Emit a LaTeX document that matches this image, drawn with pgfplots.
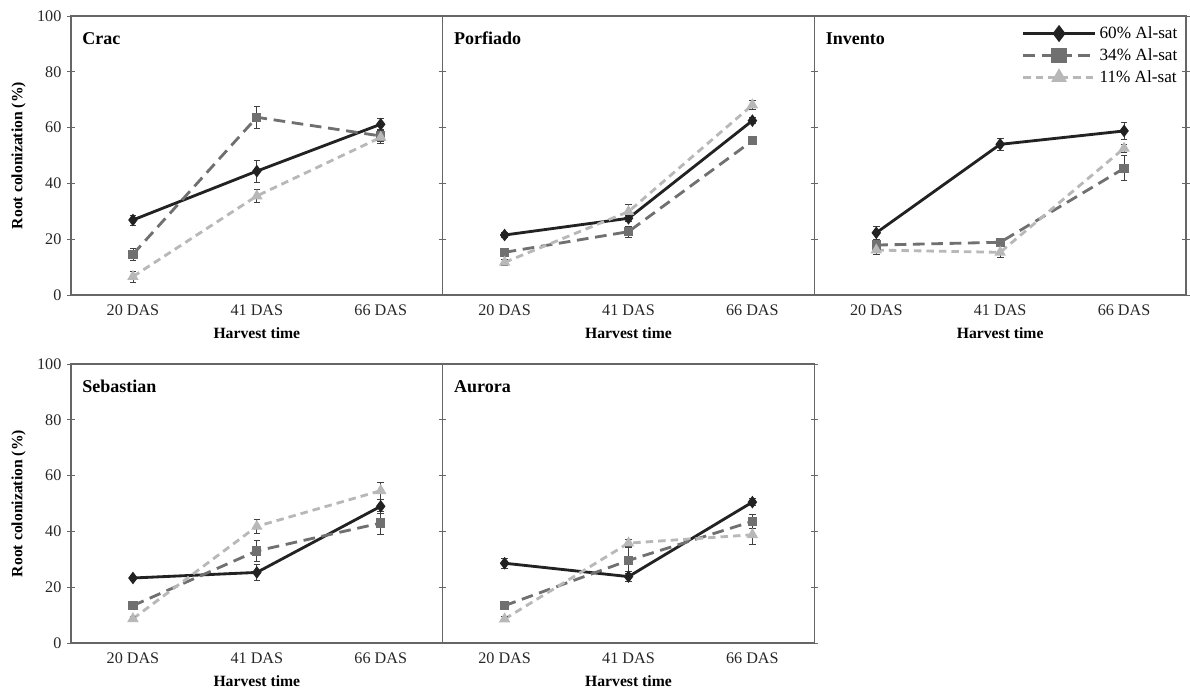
\documentclass[border=0pt]{standalone}
\usepackage{fontspec}
\setmainfont{Liberation Serif}
\usepackage{pgfplots}
\usepackage{pgfplotstable}
\pgfplotsset{compat=1.18}
\usepgfplotslibrary{groupplots}

\definecolor{axgray}{HTML}{666666}
\definecolor{sA}{HTML}{222222}
\definecolor{sB}{HTML}{707070}
\definecolor{sC}{HTML}{B8B8B8}

% x a ae b be c ce  (a=60% Al-sat, b=34% Al-sat, c=11% Al-sat)
\pgfplotstableread{
x a ae b be c ce
1 26.9 1.8 14.6 2.2 6.6 2.0
2 44.4 3.9 63.7 4.0 35.5 2.2
3 61.2 2.0 57.0 2.0 56.5 2.0
}\crac
\pgfplotstableread{
x a ae b be c ce
1 21.5 1.0 15.3 0.8 11.7 1.0
2 27.5 1.0 22.7 2.0 29.9 2.5
3 62.5 1.0 55.3 1.0 68.1 1.5
}\porfiado
\pgfplotstableread{
x a ae b be c ce
1 22.3 2.3 17.9 1.5 16.1 1.5
2 54.0 2.0 18.9 1.0 15.3 2.0
3 58.8 3.2 45.4 4.5 52.6 1.5
}\invento
\pgfplotstableread{
x a ae b be c ce
1 23.3 0.7 13.4 0.8 8.7 0.8
2 25.3 3.0 33.0 3.9 41.8 2.4
3 49.0 2.5 43.0 4.0 54.6 3.0
}\sebastian
\pgfplotstableread{
x a ae b be c ce
1 28.6 1.7 13.4 0.8 8.6 0.8
2 23.8 1.7 29.6 4.5 35.8 1.2
3 50.5 1.3 43.6 2.4 38.8 3.5
}\aurora

\pgfplotsset{
  panel/.style={
    width=223pt, height=167.4pt, scale only axis,
    xmin=0.5, xmax=3.5, ymin=0, ymax=100,
    xtick={1,2,3}, xticklabels={20 DAS,41 DAS,66 DAS},
    ytick={0,20,...,100},
    /pgf/number format/assume math mode=true,
    axis line style={axgray, line width=0.8pt},
    tick align=center, major tick length=4.5pt,
    ytick pos=both, yticklabel pos=left,
    xtick pos=bottom, xticklabel pos=bottom,
    x tick style={draw=none},
    y tick style={axgray, line width=0.6pt},
    tick label style={font=\fontsize{9.7}{11}\selectfont, text=black!85},
    xlabel={Harvest time},
    xlabel style={font=\bfseries\fontsize{9.4}{11}\selectfont, yshift=-0.5pt},
    ylabel style={font=\bfseries\fontsize{9.4}{11}\selectfont},
    clip=false,
  },
  sA/.style={color=sA, solid, line width=1.7pt, mark=diamond*, mark size=2.4pt, mark options={solid, fill=sA}},
  sB/.style={color=sB, dash pattern=on 7pt off 4pt, line width=1.7pt, mark=square*, mark size=1.9pt, mark options={solid, fill=sB}},
  sC/.style={color=sC, dash pattern=on 4.5pt off 3pt, line width=1.7pt, mark=triangle*, mark size=2.3pt, mark options={solid, fill=sC}},
  eb/.style={error bars/.cd, y dir=both, y explicit,
    error bar style={black!75, line width=0.5pt, solid},
    error mark options={rotate=90, black!75, mark size=2pt, line width=0.5pt, solid}},
}
\newcommand{\panelplots}[1]{%
  \addplot[sA, eb] table[x=x, y=a, y error=ae] {#1};
  \addplot[sB, eb] table[x=x, y=b, y error=be] {#1};
  \addplot[sC, eb] table[x=x, y=c, y error=ce] {#1};
}
\newcommand{\ptitle}[1]{\node[anchor=west, font=\bfseries\fontsize{10.8}{13}\selectfont] at (rel axis cs:0.015,0.92) {#1};}

\begin{document}
\begin{tikzpicture}
\begin{groupplot}[group style={group size=3 by 2, horizontal sep=0pt, vertical sep=41.4pt}, panel]
\nextgroupplot[ylabel={Root colonization (\%)}]
\panelplots{\crac}
\ptitle{Crac}
\nextgroupplot[yticklabels={}]
\panelplots{\porfiado}
\ptitle{Porfiado}
\nextgroupplot[yticklabels={},
  legend style={at={(rel axis cs:1,1)}, anchor=north east, xshift=-2pt, yshift=-3pt, draw=none, fill=none,
    font=\fontsize{10.3}{12}\selectfont, row sep=0.5pt, inner sep=1pt},
  legend cell align=left,
  legend image code/.code={\draw[mark repeat=2, mark phase=2, #1] plot coordinates {(0pt,0pt) (21.5pt,0pt) (43pt,0pt)};},
  legend image post style={mark size=3.8pt}]
\panelplots{\invento}
\ptitle{Invento}
\legend{60\% Al-sat, 34\% Al-sat, 11\% Al-sat}
\nextgroupplot[ylabel={Root colonization (\%)}]
\panelplots{\sebastian}
\ptitle{Sebastian}
\nextgroupplot[yticklabels={}]
\panelplots{\aurora}
\ptitle{Aurora}
\end{groupplot}
\pgfresetboundingbox
\path ([xshift=-42.6pt,yshift=9.6pt]group c1r1.north west) rectangle ([xshift=2.4pt,yshift=-403.8pt]group c3r1.north east);
\end{tikzpicture}
\end{document}
